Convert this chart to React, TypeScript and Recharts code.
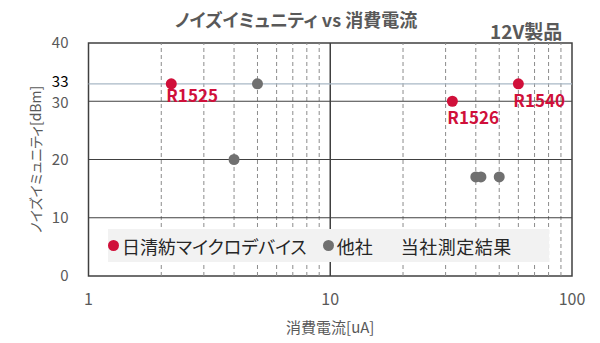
import React from 'react'
import {
  Label,
  LabelList,
  Legend,
  ReferenceArea,
  ReferenceLine,
  Scatter,
  ScatterChart,
  XAxis,
  YAxis,
} from 'recharts'

const nisshinboNames = ['R1525', 'R1526', 'R1540']
const nisshinboCurrent = [2.2, 32, 60]
const nisshinboImmunity = [33, 30, 33]

const otherCurrent = [5, 4, 40, 42, 50]
const otherImmunity = [33, 20, 17, 17, 17]

const xTicks = [1, 10, 100]
const yTicks = [0, 10, 20, 30, 33, 40]
const minorX = [2, 3, 4, 5, 6, 7, 8, 9, 20, 30, 40, 50, 60, 70, 80, 90]
const majorY = [10, 20, 30]
const markY = 33

const seriesNames = ['日清紡マイクロデバイス', '他社']

const RED = '#d0103a'
const GRAY = '#707070'
const TEXT = '#595959'
const FONT = '"Noto Sans CJK JP", "Noto Sans", sans-serif'

const nisshinbo = nisshinboNames.map((name, i) => ({
  name,
  x: nisshinboCurrent[i],
  y: nisshinboImmunity[i],
}))
const others = otherCurrent.map((x, i) => ({ x, y: otherImmunity[i] }))

const labelDy: Record<string, number> = { R1525: 18, R1526: 23, R1540: 23 }

const Dot = (color: string) => (props: any) => (
  <circle cx={props.cx} cy={props.cy} r={5.5} fill={color} />
)

const PointLabel = (props: any) => {
  const { x, y, width, value } = props
  const cx = x + (width || 0) / 2
  const cy = y + (width || 0) / 2
  return (
    <text
      x={cx - 5}
      y={cy + (labelDy[value] ?? 20)}
      fill={RED}
      fontSize={17}
      fontWeight="bold"
      fontFamily={FONT}
    >
      {value}
    </text>
  )
}

// 33 and 30 sit close together, nudge them apart a little like the original
const tickNudge: Record<number, number> = { 33: -2, 30: 1.5 }

const YTick = (props: any) => {
  const { x, y, payload } = props
  return (
    <text
      x={x}
      y={y + (tickNudge[payload.value] || 0)}
      dy={5}
      textAnchor="end"
      fontSize={15}
      fontFamily={FONT}
      fill={payload.value === markY ? '#000000' : TEXT}
    >
      {payload.value}
    </text>
  )
}

const YTitle = (props: any) => {
  const vb = props.viewBox || {}
  const cy = (vb.y || 0) + (vb.height || 0) / 2
  return (
    <text
      x={0}
      y={0}
      transform={`translate(35, ${cy}) rotate(-90)`}
      textAnchor="middle"
      dominantBaseline="central"
      fontSize={14}
      fill={TEXT}
      fontFamily={FONT}
      style={{ fontFeatureSettings: '"palt"' }}
    >
      ノイズイミュニティ[dBm]
    </text>
  )
}

const LegendBox = (props: any) => {
  const items = (props.payload || [])
    .filter((p: any) => seriesNames.includes(p.value))
    .sort((a: any, b: any) => seriesNames.indexOf(a.value) - seriesNames.indexOf(b.value))
  return (
    <div
      style={{
        width: 441,
        height: 33,
        background: '#f2f2f2',
        display: 'flex',
        alignItems: 'center',
        fontFamily: FONT,
        fontSize: 18,
        color: '#262626',
        fontFeatureSettings: '"palt"',
        whiteSpace: 'nowrap',
      }}
    >
      {items.map((p: any) => (
        <span
          key={p.value}
          style={{ display: 'flex', alignItems: 'center', marginRight: 16 }}
        >
          <span
            style={{
              width: 11,
              height: 11,
              borderRadius: '50%',
              background: p.color,
              margin: '0 3px 0 0',
            }}
          />
          {p.value}
        </span>
      ))}
      <span style={{ marginLeft: 12, letterSpacing: 0.5 }}>当社測定結果</span>
    </div>
  )
}

export default function App() {
  return (
    <div style={{ position: 'absolute', left: 0, top: 0, width: 600, height: 343, background: '#fff' }}>
      <div
        style={{
          position: 'absolute',
          left: 0,
          width: 592,
          top: 6,
          textAlign: 'center',
          fontFamily: FONT,
          fontWeight: 'bold',
          fontSize: 18,
          color: TEXT,
          fontFeatureSettings: '"palt"',
        }}
      >
        ノイズイミュニティ vs 消費電流
      </div>
      <div
        style={{
          position: 'absolute',
          left: 490,
          top: 17,
          fontFamily: FONT,
          fontWeight: 'bold',
          fontSize: 19,
          color: TEXT,
        }}
      >
        12V製品
      </div>
      <ScatterChart
        width={600}
        height={343}
        margin={{ top: 43, right: 28, bottom: 0, left: 0 }}
      >
        <XAxis
          type="number"
          dataKey="x"
          scale="log"
          domain={[1, 100]}
          ticks={xTicks}
          allowDataOverflow
          axisLine={false}
          tickLine={false}
          height={67}
          tick={{ fontSize: 16, fill: TEXT, fontFamily: FONT }}
          tickMargin={12}
        >
          <Label
            value="消費電流[uA]"
            position="insideBottom"
            offset={10}
            style={{ fontSize: 15, fill: TEXT, fontFamily: FONT }}
          />
        </XAxis>
        <YAxis
          type="number"
          dataKey="y"
          domain={[0, 40]}
          ticks={yTicks}
          interval={0}
          axisLine={false}
          tickLine={false}
          width={88.5}
          tick={<YTick />}
          tickMargin={14}
        >
          <Label content={<YTitle />} />
        </YAxis>
        {minorX.map((v) => (
          <ReferenceLine
            key={'mx' + v}
            x={v}
            stroke="#8c8c8c"
            strokeDasharray="4 3"
            strokeWidth={1}
          />
        ))}
        <ReferenceLine x={10} stroke="#404040" strokeWidth={1.5} />
        {majorY.map((v) => (
          <ReferenceLine key={'my' + v} y={v} stroke="#404040" strokeWidth={1.2} />
        ))}
        <ReferenceLine y={markY} stroke="#a9b8c6" strokeWidth={1.2} />
        <ReferenceArea
          x1={1}
          x2={100}
          y1={0}
          y2={40}
          fill="none"
          stroke="#404040"
          strokeWidth={1.5}
          fillOpacity={0}
        />
        <Legend
          layout="horizontal"
          verticalAlign="middle"
          align="center"
          content={<LegendBox />}
          wrapperStyle={{ position: 'absolute', left: 108, top: 229, width: 441 }}
        />
        <Scatter
          name={seriesNames[0]}
          data={nisshinbo}
          fill={RED}
          shape={Dot(RED)}
          isAnimationActive={false}
        >
          <LabelList dataKey="name" content={<PointLabel />} />
        </Scatter>
        <Scatter
          name={seriesNames[1]}
          data={others}
          fill={GRAY}
          shape={Dot(GRAY)}
          isAnimationActive={false}
        />
      </ScatterChart>
    </div>
  )
}
